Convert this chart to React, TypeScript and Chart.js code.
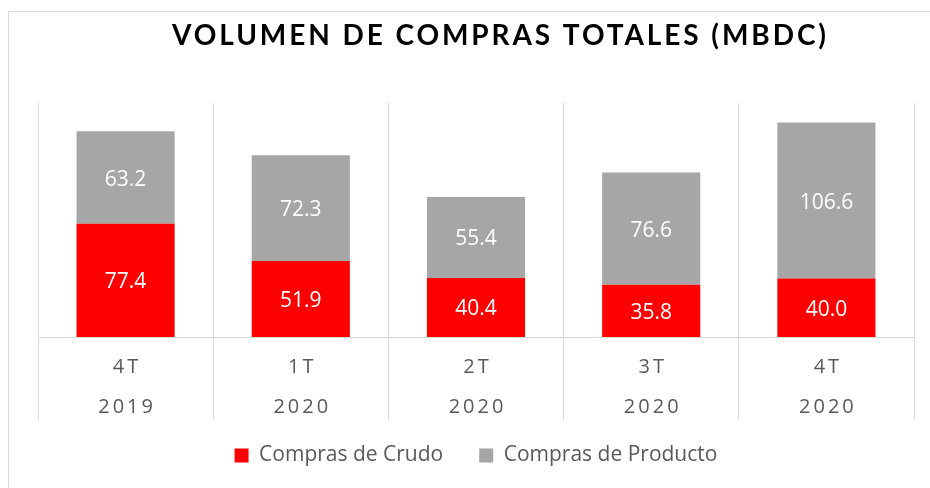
import React, { useEffect, useRef } from 'react';
import { Chart, registerables } from 'chart.js';

Chart.register(...registerables);

const chartTitle = 'VOLUMEN DE COMPRAS TOTALES (MBDC)';
const quarters = ['4T', '1T', '2T', '3T', '4T'];
const years = ['2019', '2020', '2020', '2020', '2020'];
const seriesNames = ['Compras de Crudo', 'Compras de Producto'];
const crudo = [77.4, 51.9, 40.4, 35.8, 40.0];
const producto = [63.2, 72.3, 55.4, 76.6, 106.6];
const yMax = 160;

const overlayPlugin = {
  id: 'overlay',
  afterDatasetsDraw(chart: any) {
    const ctx = chart.ctx;
    ctx.save();
    ctx.font = '21px "Open Sans"';
    ctx.fillStyle = '#ffffff';
    ctx.textAlign = 'center';
    ctx.textBaseline = 'alphabetic';
    chart.data.datasets.forEach((ds: any, di: number) => {
      const meta = chart.getDatasetMeta(di);
      meta.data.forEach((bar: any, i: number) => {
        const { x, y, base } = bar.getProps(['x', 'y', 'base'], true);
        ctx.fillText(Number(ds.data[i]).toFixed(1), x, (y + base) / 2 + 8);
      });
    });
    ctx.restore();
  },
  afterDraw(chart: any) {
    const ctx = chart.ctx;
    const xs = chart.scales.x;
    ctx.save();
    // category labels (two lines, letter-spaced)
    ctx.font = '20px "Open Sans"';
    ctx.fillStyle = '#595959';
    ctx.textAlign = 'center';
    ctx.textBaseline = 'alphabetic';
    (ctx as any).letterSpacing = '3px';
    quarters.forEach((q, i) => {
      const x = xs.getPixelForValue(i) + 1.5;
      ctx.fillText(q, x, xs.top + 36);
      ctx.fillText(years[i], x, xs.top + 76);
    });
    // title
    ctx.font = 'bold 28px Lato';
    (ctx as any).letterSpacing = '0px';
    const w = ctx.measureText(chartTitle).width;
    const sp = (654 - w) / (chartTitle.length - 1);
    (ctx as any).letterSpacing = sp + 'px';
    ctx.fillStyle = '#000000';
    ctx.textAlign = 'left';
    ctx.fillText(chartTitle, 172, 45);
    ctx.restore();
  },
};

export default function App() {
  const ref = useRef<HTMLCanvasElement>(null);

  useEffect(() => {
    if (!ref.current) return;
    const chart = new Chart(ref.current, {
      type: 'bar',
      data: {
        labels: quarters.map((q, i) => [q, years[i]]),
        datasets: [
          {
            label: seriesNames[0],
            data: crudo,
            backgroundColor: '#ff0000',
            borderWidth: 0,
            barPercentage: 0.56,
            categoryPercentage: 1,
          },
          {
            label: seriesNames[1],
            data: producto,
            backgroundColor: '#a6a6a6',
            borderWidth: 0,
            barPercentage: 0.56,
            categoryPercentage: 1,
          },
        ],
      },
      options: {
        responsive: false,
        animation: false,
        layout: { padding: { top: 103, left: 38, right: 16, bottom: 12 } },
        scales: {
          x: {
            stacked: true,
            grid: { color: '#d9d9d9', offset: true, drawTicks: true, tickLength: 83, lineWidth: 1 },
            border: { color: '#d9d9d9', width: 1 },
            ticks: { display: false },
            afterFit: (s: any) => {
              s.height = 72;
            },
          },
          y: {
            stacked: true,
            display: false,
            min: 0,
            max: yMax,
          },
        },
        plugins: {
          title: { display: false },
          tooltip: { enabled: false },
          legend: {
            position: 'bottom',
            labels: {
              boxWidth: 14,
              boxHeight: 14,
              padding: 36,
              color: '#595959',
              font: { family: 'Open Sans', size: 21 },
            },
          },
        },
      },
      plugins: [overlayPlugin],
    });
    return () => chart.destroy();
  }, []);

  return (
    <div style={{ position: 'absolute', left: 0, top: 0, width: 930, height: 488, overflow: 'hidden', background: '#fff' }}>
      <div
        style={{
          position: 'absolute',
          left: 8,
          top: 11,
          width: 940,
          height: 500,
          borderLeft: '1px solid #d9d9d9',
          borderTop: '1px solid #d9d9d9',
        }}
      />
      <canvas ref={ref} width={930} height={488} style={{ position: 'absolute', left: 0, top: 0, width: 930, height: 488 }} />
    </div>
  );
}
